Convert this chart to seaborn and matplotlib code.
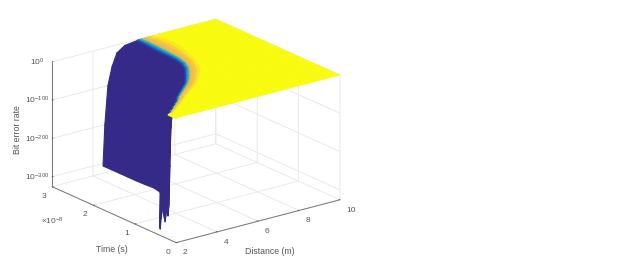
import numpy as np
import seaborn as sns
import matplotlib
matplotlib.use('Agg')
import matplotlib.pyplot as plt

sns.set_theme(style='white')
plt.rcParams['font.family'] = ['Liberation Sans', 'DejaVu Sans']
plt.rcParams['mathtext.default'] = 'regular'
plt.rcParams['grid.color'] = '#e6e6e6'
plt.rcParams['grid.linewidth'] = 0.6

# time in units of 1e-8 s
band_time = [0, 0.1, 0.2, 0.3, 0.4, 0.5, 0.6, 0.7, 0.8, 0.9, 1.0, 1.1, 1.2, 1.3,
             1.4, 1.5, 1.6, 1.8, 2.0, 2.2, 2.4, 2.6, 2.8, 3.0]
# bit error rate at each column of the flat part, last two columns are the plateau
band_ber = [0.001, 0.06, 0.15, 0.25, 0.31, 0.36, 0.38, 0.40, 0.44, 0.5, 0.5]
# distance where each rate is reached, one row per time
band_dist = [
    [2.0, 2.0, 2.0, 2.0, 2.0, 2.0, 2.0, 2.0, 2.0, 2.0, 10],
    [2.0, 2.0, 2.0, 2.0, 2.0, 2.0, 2.0, 2.0, 2.0, 2.0, 10],
    [2.0, 2.01, 2.02, 2.04, 2.06, 2.07, 2.09, 2.12, 2.16, 2.2, 10],
    [2.3, 2.31, 2.33, 2.36, 2.38, 2.39, 2.43, 2.46, 2.51, 2.57, 10],
    [2.6, 2.62, 2.64, 2.67, 2.69, 2.71, 2.75, 2.79, 2.85, 2.92, 10],
    [2.9, 2.92, 2.94, 2.98, 3.0, 3.03, 3.07, 3.12, 3.19, 3.27, 10],
    [3.2, 3.22, 3.25, 3.29, 3.32, 3.35, 3.4, 3.45, 3.53, 3.62, 10],
    [3.4, 3.43, 3.47, 3.53, 3.56, 3.6, 3.67, 3.74, 3.84, 3.97, 10],
    [3.7, 3.73, 3.77, 3.84, 3.87, 3.92, 3.99, 4.07, 4.18, 4.32, 10],
    [4.0, 4.03, 4.08, 4.15, 4.19, 4.23, 4.31, 4.4, 4.52, 4.67, 10],
    [4.3, 4.34, 4.39, 4.46, 4.51, 4.56, 4.65, 4.74, 4.88, 5.04, 10],
    [4.6, 4.64, 4.68, 4.75, 4.8, 4.85, 4.93, 5.02, 5.15, 5.3, 10],
    [4.85, 4.89, 4.93, 5.0, 5.05, 5.1, 5.18, 5.27, 5.4, 5.55, 10],
    [5.05, 5.09, 5.14, 5.22, 5.26, 5.31, 5.4, 5.5, 5.64, 5.8, 10],
    [5.25, 5.29, 5.34, 5.42, 5.46, 5.51, 5.6, 5.7, 5.84, 6.0, 10],
    [5.45, 5.49, 5.54, 5.62, 5.66, 5.71, 5.8, 5.9, 6.04, 6.2, 10],
    [5.65, 5.68, 5.73, 5.8, 5.84, 5.88, 5.96, 6.05, 6.17, 6.32, 10],
    [5.9, 5.93, 5.98, 6.05, 6.09, 6.14, 6.22, 6.31, 6.43, 6.58, 10],
    [6.0, 6.04, 6.09, 6.17, 6.21, 6.27, 6.36, 6.46, 6.59, 6.76, 10],
    [6.02, 6.07, 6.13, 6.22, 6.27, 6.34, 6.44, 6.56, 6.72, 6.92, 10],
    [6.02, 6.07, 6.14, 6.25, 6.31, 6.38, 6.5, 6.64, 6.82, 7.05, 10],
    [6.05, 6.1, 6.18, 6.28, 6.34, 6.42, 6.54, 6.68, 6.87, 7.1, 10],
    [6.1, 6.15, 6.21, 6.31, 6.37, 6.43, 6.55, 6.67, 6.84, 7.05, 10],
    [6.13, 6.17, 6.22, 6.3, 6.35, 6.4, 6.49, 6.59, 6.73, 6.9, 10],
]

wall_time = [0.3, 0.4, 0.5, 0.6, 0.7, 0.8, 0.9, 1.0, 1.1, 1.2, 1.3, 1.4, 1.5, 1.6,
             1.8, 2.0, 2.2, 2.4, 2.6, 2.8, 3.0]
# log10 of the rate on the falling part, the last level differs per row
wall_log = [-3, -7, -21, -54, -100, -200]
wall_bottom = [-229, -299, -318, -272, -318, -290, -320, -300, -318, -315, -318,
               -320, -312, -306, -307, -307, -307, -307, -307, -307, -307]
wall_dist = [
    [2.3, 2.2, 2.13, 2.08, 2.05, 2.02, 2.0],
    [2.6, 2.39, 2.25, 2.16, 2.09, 2.04, 2.0],
    [2.9, 2.67, 2.51, 2.41, 2.33, 2.27, 2.23],
    [3.2, 2.97, 2.81, 2.71, 2.63, 2.57, 2.53],
    [3.4, 3.21, 3.09, 3.01, 2.95, 2.9, 2.87],
    [3.7, 3.52, 3.4, 3.32, 3.26, 3.21, 3.18],
    [4.0, 3.8, 3.66, 3.58, 3.51, 3.45, 3.42],
    [4.3, 4.08, 3.93, 3.84, 3.76, 3.71, 3.67],
    [4.6, 4.33, 4.15, 4.04, 3.95, 3.88, 3.83],
    [4.85, 4.55, 4.35, 4.21, 4.11, 4.03, 3.98],
    [5.05, 4.72, 4.5, 4.36, 4.24, 4.16, 4.1],
    [5.25, 4.88, 4.64, 4.48, 4.36, 4.26, 4.2],
    [5.45, 5.06, 4.8, 4.63, 4.5, 4.4, 4.33],
    [5.65, 5.23, 4.95, 4.77, 4.62, 4.51, 4.44],
    [5.9, 5.43, 5.12, 4.92, 4.76, 4.64, 4.56],
    [6.0, 5.48, 5.14, 4.92, 4.74, 4.61, 4.52],
    [6.02, 5.49, 5.14, 4.91, 4.73, 4.59, 4.5],
    [6.02, 5.49, 5.14, 4.91, 4.73, 4.59, 4.5],
    [6.05, 5.51, 5.15, 4.92, 4.73, 4.59, 4.5],
    [6.1, 5.54, 5.17, 4.93, 4.74, 4.60, 4.5],
    [6.13, 5.56, 5.17, 4.93, 4.73, 4.58, 4.49],
]

x_ticks = [2, 4, 6, 8, 10]
t_ticks = [0, 1, 2, 3]
z_ticks = [-300, -200, -100, 0]
z_labels = ['$10^{-300}$', '$10^{-200}$', '$10^{-100}$', '$10^{0}$']

parula = sns.blend_palette(['#352a87', '#0f5cdd', '#1481d6', '#06a4ca', '#2eb7a4',
                            '#b5bd60', '#f2b84a', '#fcd22e', '#f9fb0e'], as_cmap=True)
text_col = '#555555'

fig = plt.figure(figsize=(6.3, 2.73), dpi=100)
ax = fig.add_axes([36.8 / 630, -17 / 273, 310 / 630, 310 / 273], projection='3d')
ax.computed_zorder = False
ax.set_proj_type('ortho')
ax.view_init(elev=20.1, azim=-127.3)
ax.set_box_aspect((206, 205, 133))

# falling part, all one colour
W_x = np.array(wall_dist)
W_t = np.tile(np.array(wall_time)[:, None], (1, W_x.shape[1]))
W_z = np.column_stack([np.tile(wall_log, (len(wall_time), 1)), wall_bottom])
wall_col = np.empty(W_x.shape + (4,))
wall_col[:] = parula(0.0)
ax.plot_surface(W_x, W_t, W_z, facecolors=wall_col, rstride=1, cstride=1, shade=False,
                linewidth=0.8, zorder=3)

# flat part coloured by the linear rate
B_x = np.array(band_dist)
B_t = np.tile(np.array(band_time)[:, None], (1, B_x.shape[1]))
ber = np.array(band_ber)
B_z = np.tile(np.log10(ber), (len(band_time), 1))
c = ber / ber.max()
c_mid = np.append((c[:-1] + c[1:]) / 2, 1.0)
band_col = parula(np.tile(c_mid, (len(band_time), 1)))
band_col[:2] = parula(1.0)
ax.plot_surface(B_x, B_t, B_z, facecolors=band_col, rstride=1, cstride=1, shade=False,
                linewidth=0.4, zorder=4)

ax.set_xlim(2, 10, view_margin=0)
ax.set_ylim(0, 3, view_margin=0)
ax.set_zlim(-326, 0, view_margin=0)
ax.set_xticks(x_ticks)
ax.set_yticks(t_ticks)
ax.set_zticks(z_ticks)
ax.set_zticklabels(z_labels)
ax.tick_params(labelsize=6, colors=text_col, pad=-2, length=2)

for axis in [ax.xaxis, ax.yaxis, ax.zaxis]:
    axis.set_pane_color((1, 1, 1, 0))
    axis.pane.set_edgecolor('#dddddd')
    axis.line.set_color('#777777')
    axis.line.set_linewidth(0.7)
    axis._axinfo['tick']['inward_factor'] = 0.0
    axis._axinfo['tick']['outward_factor'] = 0.1
    axis._axinfo['tick']['linewidth'] = {True: 0.5, False: 0.5}

# labels sit a little higher than mplot3d puts them
for lab in ax.get_xticklabels() + ax.get_yticklabels() + ax.get_zticklabels():
    lab.set_va('center_baseline')
for lab in ax.get_xticklabels():
    lab.set_ha('left')

fig.text(270 / 630, 1 - 251 / 273, 'Distance (m)', fontsize=6.3, color=text_col, ha='center', va='center')
fig.text(112 / 630, 1 - 249 / 273, 'Time (s)', fontsize=6.3, color=text_col, ha='center', va='center')
fig.text(17 / 630, 1 - 130 / 273, 'Bit error rate', fontsize=6.3, color=text_col, rotation=90, ha='center', va='center')
fig.text(52 / 630, 1 - 221 / 273, '$\\times10^{-8}$', fontsize=6, color=text_col, ha='center', va='center')

fig.savefig('out.png', dpi=100)
